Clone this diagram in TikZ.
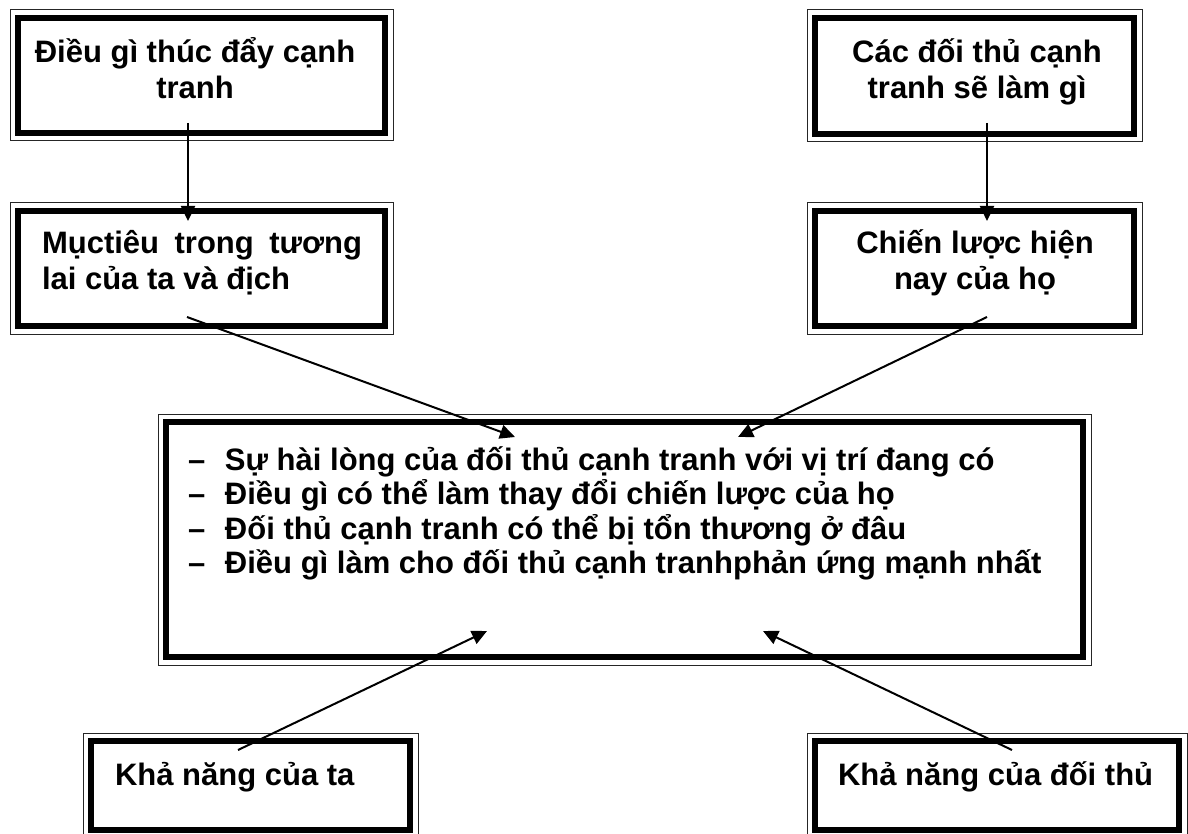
\documentclass[tikz,border=0pt]{standalone}
\usepackage{fontspec}
\setmainfont{Liberation Sans}
\usetikzlibrary{arrows.meta}
\newcommand\dblbox[5]{%
  \node[thickbox, minimum width={(#4-#2-16)*1pt}, minimum height={(#5-#3-16)*1pt}]
    (#1) at ({(#2+#4)/2},{(#3+#5)/2}) {};
  \draw[thinbox] ([shift={(-8,-8)}]#1.north west) rectangle ([shift={(8,8)}]#1.south east);
}
\begin{document}
\begin{tikzpicture}[x=1pt,y=-1pt,
  thickbox/.style={draw, line width=6.5pt, inner sep=0pt, outer sep=0pt, rectangle},
  thinbox/.style={draw=black!85, line width=1pt},
  conn/.style={line width=2pt, -{Triangle[length=15pt,width=14pt]}},
  lbl/.style={inner sep=0pt, outer sep=0pt, anchor=base west, font=\fontsize{31}{36}\selectfont\bfseries},
]
\useasboundingbox (0,0) rectangle (1188,834);
\clip (0,0) rectangle (1188,834);

\dblbox{b1}{10}{10}{393}{141}
\dblbox{b2}{10}{203}{393}{334}
\dblbox{b3}{807}{10}{1142}{142}
\dblbox{b4}{807}{203}{1142}{334}
\dblbox{bc}{158}{414}{1091}{665}
\dblbox{b5}{83}{733}{418}{838}
\dblbox{b6}{807}{733}{1187}{838}

\node[lbl, anchor=base] (t1) at (195,63) {\parbox[t]{370pt}{\centering Điều gì thúc đẩy cạnh\\tranh}};
\node[lbl] (t2) at (42,254) {\parbox[t]{320pt}{Mụctiêu trong tương\linebreak lai của ta và địch}};
\node[lbl, anchor=base] (t3) at (977,63) {\parbox[t]{320pt}{\centering Các đối thủ cạnh\\tranh sẽ làm gì}};
\node[lbl, anchor=base] (t4) at (975,254) {\parbox[t]{320pt}{\centering Chiến lược hiện\\nay của họ}};
\node[lbl] (tc) at (188,470) {\parbox[t]{890pt}{\raggedright\baselineskip=34.5pt
  \makebox[37pt][l]{–}Sự hài lòng của đối thủ cạnh tranh với vị trí đang có\\
  \makebox[37pt][l]{–}Điều gì có thể làm thay đổi chiến lược của họ\\
  \makebox[37pt][l]{–}Đối thủ cạnh tranh có thể bị tổn thương ở đâu\\
  \makebox[37pt][l]{–}Điều gì làm cho đối thủ cạnh tranhphản ứng mạnh nhất}};
\node[lbl] (t5) at (115,785) {Khả năng của ta};
\node[lbl] (t6) at (838,785) {Khả năng của đối thủ};

\coordinate (a1s) at (188,123);
\coordinate (a1e) at (188,221);
\coordinate (a2s) at (987,123);
\coordinate (a2e) at (987,221);
\coordinate (a3s) at (187,317);
\coordinate (a3e) at (515,437);
\coordinate (a4s) at (987,317);
\coordinate (a4e) at (738,437);
\coordinate (a5s) at (238,750);
\coordinate (a5e) at (487,631);
\coordinate (a6s) at (1012,750);
\coordinate (a6e) at (763,631);

\draw[conn] (a1s) -- (a1e);
\draw[conn] (a2s) -- (a2e);
\draw[conn] (a3s) -- (a3e);
\draw[conn] (a4s) -- (a4e);
\draw[conn] (a5s) -- (a5e);
\draw[conn] (a6s) -- (a6e);
\end{tikzpicture}
\end{document}
